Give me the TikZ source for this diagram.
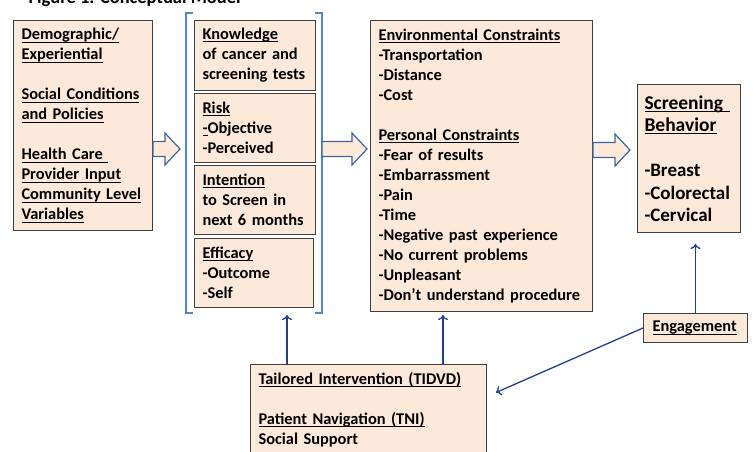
\documentclass[tikz,border=0pt]{standalone}
\usepackage{fontspec}
\setmainfont{Carlito}
\usetikzlibrary{positioning}
\usetikzlibrary{arrows.meta}
\usetikzlibrary{calc}

\definecolor{peach}{RGB}{253,233,217}
\definecolor{bracketblue}{RGB}{80,134,205}
\definecolor{arrowblue}{RGB}{62,100,160}
\definecolor{linkblue}{RGB}{35,64,142}

\newsavebox{\ulinebox}
\newcommand{\uln}[1]{\sbox{\ulinebox}{#1}\leavevmode\rlap{\rule[-2.6pt]{\wd\ulinebox}{1pt}}\usebox{\ulinebox}}

% hollow block arrow from #1 to tip #2
\newcommand{\fatarrow}[2]{%
  \draw[fatarrow] let \p1=(#1), \p2=(#2) in
    (\x1,\y1+7.5pt) -- (\x2-15pt,\y1+7.5pt) -- (\x2-15pt,\y1+16pt) -- (\x2,\y1)
    -- (\x2-15pt,\y1-16pt) -- (\x2-15pt,\y1-7.5pt) -- (\x1,\y1-7.5pt) -- cycle;
}

\begin{document}
\begin{tikzpicture}[
        x=1pt, y=-1pt,
        font=\bfseries\fontsize{16.4}{20}\selectfont,
        box/.style={draw=black!75, line width=1pt, fill=peach, align=left,
            inner xsep=8pt, inner ysep=0pt, anchor=north west},
        fatarrow/.style={draw=arrowblue, line width=1.2pt, fill=peach},
        link/.style={draw=linkblue, line width=1.3pt, -{To[length=5pt,width=10pt]}},
        bracket/.style={draw=bracketblue, line width=2.2pt}
    ]

    \useasboundingbox (0,0) rectangle (754,451);

    \node [anchor=base west, font=\bfseries\fontsize{18.5}{20}\selectfont] (title) at (25,3) {Figure 1. Conceptual Model};

    \node [box, text width=123pt, minimum height=210pt] (social) at (13,20)
        {\uln{Demographic/}\\ \uln{Experiential}\\[20pt]
         \uln{Social Conditions}\\ \uln{and Policies}\\[20pt]
         \uln{Health Care }\\ \uln{Provider Input}\\ \uln{Community Level}\\ \uln{Variables}};

    \node [box, text width=105pt, minimum height=70pt, right=41pt of social.north east, anchor=north west] (know)
        {\uln{Knowledge}\\ of cancer and\\ screening tests};
    \node [box, text width=105pt, minimum height=69pt, below=2pt of know.south west, anchor=north west] (risk)
        {\uln{Risk}\\ \uln{-}Objective\\ -Perceived};
    \node [box, text width=105pt, minimum height=69pt, below=2pt of risk.south west, anchor=north west] (intent)
        {\uln{Intention}\\ to Screen in\\ next 6 months};
    \node [box, text width=103pt, minimum height=69pt, below=3pt of intent.south west, anchor=north west] (effic)
        {\uln{Efficacy}\\ -Outcome\\ -Self};

    \node [box, text width=206pt, minimum height=291pt, right=54pt of know.north east, anchor=north west] (env)
        {\uln{Environmental Constraints}\\ -Transportation\\ -Distance\\ -Cost\\[20pt]
         \uln{Personal Constraints}\\ -Fear of results\\ -Embarrassment\\ -Pain\\ -Time\\
         -Negative past experience\\ -No current problems\\ -Unpleasant\\ -Don’t understand procedure};

    \node [box, text width=89pt, minimum height=148pt, inner xsep=7pt, font=\bfseries\fontsize{19}{22.5}\selectfont] (screen) at (637,84)
        {{\fontsize{19.5}{22.5}\selectfont\uln{Screening }\\ \uln{Behavior}}\\[22.5pt]
         -Breast\\ -Colorectal\\ -Cervical};

    \node [box, text width=86pt, minimum height=29pt, inner xsep=9pt] (engage) at (643,313) {\uln{Engagement}};

    \node [box, text width=220pt, minimum height=90pt] (tailor) at (250,364)
        {\uln{Tailored Intervention (TIDVD)}\\[20pt]
         \uln{Patient Navigation (TNI)}\\ Social Support};

    % bracket round the middle group
    \draw[bracket] (193,13) -| (186,313) -- (193,313);
    \draw[bracket] (315,13) -| (322,313) -- (315,313);

    \coordinate (bracketbase) at (287,315);
    \coordinate (envbase) at (443,315);
    \coordinate (screenbase) at ($(engage.north |- screen.south)+(0,11)$);
    \coordinate (tailorside) at ($(tailor.east)+(9,-17)$);

    \fatarrow{social.east |- 0,149}{180,149}
    \fatarrow{322,149}{$(env.west |- 0,149)+(-3,0)$}
    \fatarrow{env.east |- 0,150}{$(screen.west |- 0,150)+(-7,0)$}

    \draw[link] (tailor.north -| bracketbase) -- (bracketbase);
    \draw[link] (tailor.north -| envbase) -- (envbase);
    \draw[link] (engage.north) -- (screenbase);
    \draw[link] (engage.west) -- (tailorside);

\end{tikzpicture}
\end{document}
